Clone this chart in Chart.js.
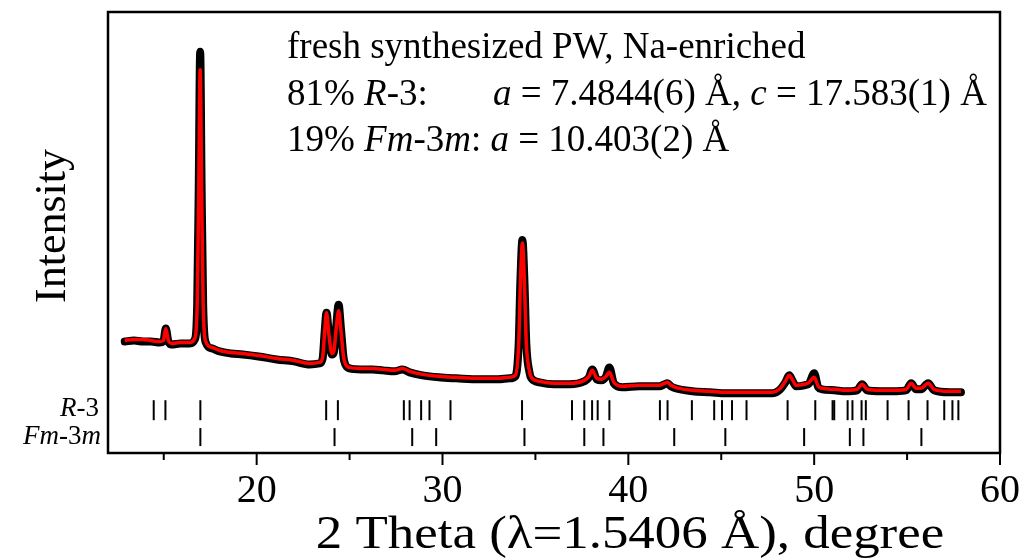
<!DOCTYPE html>
<html>
<head>
<meta charset="utf-8">
<script src="https://cdn.jsdelivr.net/npm/chart.js@4.4.0/dist/chart.umd.min.js"></script>
<style>
  html, body { margin: 0; padding: 0; background: #fff; }
  #wrap { width: 1028px; height: 560px; }
</style>
</head>
<body>
<div id="wrap"><canvas id="xrd"></canvas></div>
<script>
// Data (2 theta in degrees, intensity in arbitrary units)
const twoTheta = [
  12.90, 13.40, 13.87, 14.30, 14.78, 14.98, 15.11, 15.25, 15.43, 15.90,
  16.40, 16.67, 16.80, 16.88, 16.96, 17.04, 17.12, 17.26, 17.60, 18.01,
  18.60, 19.25, 20.10, 21.08, 22.00, 22.85, 23.39, 23.55, 23.66, 23.76,
  23.88, 24.05, 24.15, 24.28, 24.41, 24.54, 24.70, 25.00, 25.60, 26.24,
  26.80, 27.42, 27.85, 28.23, 28.92, 29.80, 30.75, 31.99, 33.00, 33.60,
  33.92, 34.10, 34.19, 34.30, 34.41, 34.51, 34.68, 34.78, 35.22, 36.00,
  36.83, 37.63, 37.88, 38.06, 38.30, 38.55, 38.80, 38.98, 39.22, 39.68,
  40.59, 41.67, 41.95, 42.10, 42.30, 42.53, 43.44, 44.40, 45.27, 46.50,
  47.74, 48.12, 48.45, 48.66, 48.85, 49.03, 49.46, 49.73, 50.00, 50.22,
  50.43, 51.10, 51.72, 52.31, 52.58, 52.85, 53.60, 54.41, 54.95, 55.22,
  55.48, 55.75, 56.13, 56.45, 57.26, 57.90
];
const intensityCalc = [
  113, 114, 114, 113, 112, 113, 125, 113, 110, 111,
  111, 115, 150, 260, 385, 260, 150, 112, 106, 103,
  101, 100, 98, 95, 93, 90, 91, 96, 122, 141,
  120, 100, 102, 125, 143, 122, 94, 86, 85, 85,
  84, 83, 85, 82, 79, 77, 76, 75, 75, 76,
  78, 110, 170, 211, 170, 110, 82, 76, 72, 70,
  70, 73, 77, 83, 75, 74, 77, 81, 71, 67,
  68, 68, 70, 71, 68, 66, 63, 62, 61, 61,
  61, 64, 72, 78, 73, 68, 69, 71, 76, 67,
  65, 64, 63, 64, 69, 64, 63, 63, 64, 70,
  65, 65, 70, 64, 62, 62
];
const intensityObs = [
  112, 113, 112, 112, 111, 112, 125, 112, 109, 110,
  110, 114, 150, 262, 403, 262, 150, 111, 105, 102,
  100, 99, 97, 94, 92, 89, 90, 95, 122, 141,
  120, 99, 101, 127, 149, 124, 93, 85, 84, 84,
  83, 82, 84, 81, 78, 76, 75, 74, 74, 75,
  77, 110, 172, 214, 172, 110, 81, 75, 71, 69,
  69, 72, 76, 84, 74, 73, 77, 86, 70, 66,
  67, 67, 69, 70, 67, 65, 62, 61, 60, 60,
  60, 63, 71, 78, 72, 67, 68, 70, 80, 66,
  64, 63, 62, 63, 69, 63, 62, 62, 63, 70,
  64, 64, 70, 63, 61, 61
];
// Bragg reflection positions of both phases
const r3Ticks = [
  14.46, 15.09, 16.97, 23.74, 24.37, 27.92, 28.23, 28.85, 29.30, 30.43,
  34.28, 36.97, 37.63, 38.05, 38.35, 38.98, 41.70, 42.11, 43.42, 44.62,
  45.04, 45.58, 46.36, 48.57, 50.06, 50.99, 51.08, 51.80, 52.06, 52.55,
  52.78, 53.95, 55.08, 56.10, 57.00, 57.44, 57.76
];
const fm3mTicks = [
  16.97, 24.19, 28.37, 29.66, 34.41, 37.63, 38.66, 42.47, 45.22, 49.46,
  51.92, 52.65, 55.77
];
const xTickLabels = [20, 30, 40, 50, 60];
const xMinorTicks = [15, 25, 35, 45, 55];

const serif = '"Liberation Serif", "Times New Roman", serif';

function drawRich(ctx, parts, x, y, size, align) {
  let total = 0;
  parts.forEach(([t, it]) => {
    ctx.font = (it ? 'italic ' : '') + size + 'px ' + serif;
    total += ctx.measureText(t).width;
  });
  let cx = align === 'right' ? x - total : x;
  parts.forEach(([t, it]) => {
    ctx.font = (it ? 'italic ' : '') + size + 'px ' + serif;
    ctx.fillText(t, cx, y);
    cx += ctx.measureText(t).width;
  });
}

const decorations = {
  id: 'decorations',
  afterDraw(chart) {
    const ctx = chart.ctx;
    const area = chart.chartArea;
    const xs = chart.scales.x;
    ctx.save();
    ctx.strokeStyle = '#000';
    ctx.fillStyle = '#000';

    // frame
    ctx.lineWidth = 2.5;
    ctx.strokeRect(area.left, area.top, area.right - area.left, area.bottom - area.top);

    // outward tick marks and labels on the bottom axis
    ctx.lineWidth = 2;
    const tick = (v, len) => {
      const px = xs.getPixelForValue(v);
      ctx.beginPath();
      ctx.moveTo(px, area.bottom);
      ctx.lineTo(px, area.bottom + len);
      ctx.stroke();
    };
    xMinorTicks.forEach(v => tick(v, 7));
    xTickLabels.forEach(v => tick(v, 12));

    ctx.textAlign = 'center';
    ctx.textBaseline = 'middle';
    ctx.font = '40px ' + serif;
    xTickLabels.forEach(v => ctx.fillText(String(v), xs.getPixelForValue(v), 491));

    // x title (reference text is wider than the font)
    ctx.save();
    ctx.translate(630, 536);
    ctx.scale(1.15, 1);
    ctx.font = '46px ' + serif;
    ctx.fillText('2 Theta (λ=1.5406 Å), degree', 0, 0);
    ctx.restore();

    // y title
    ctx.save();
    ctx.translate(53, 226);
    ctx.rotate(-Math.PI / 2);
    ctx.font = '44px ' + serif;
    ctx.fillText('Intensity', 0, 0);
    ctx.restore();

    // annotation
    ctx.textBaseline = 'alphabetic';
    ctx.textAlign = 'left';
    const fs = 37;
    drawRich(ctx, [['fresh synthesized PW, Na-enriched', false]], 287, 58, fs);
    drawRich(ctx, [['81% ', false], ['R', true], ['-3:', false]], 287, 105, fs);
    drawRich(ctx, [['a', true], [' = 7.4844(6) Å, ', false], ['c', true], [' = 17.583(1) Å', false]], 493, 105, fs);
    drawRich(ctx, [['19% ', false], ['Fm', true], ['-3', false], ['m', true], [': ', false], ['a', true], [' = 10.403(2) Å', false]], 287, 151, fs);

    // phase labels
    ctx.textBaseline = 'middle';
    drawRich(ctx, [['R', true], ['-3', false]], 99, 409, 27, 'right');
    drawRich(ctx, [['Fm', true], ['-3', false], ['m', true]], 101, 437, 27, 'right');
    ctx.restore();
  }
};

const ctx = document.getElementById('xrd').getContext('2d');
new Chart(ctx, {
  type: 'line',
  data: {
    datasets: [
      {
        label: 'calculated',
        data: twoTheta.map((x, i) => ({ x: x, y: intensityCalc[i] })),
        borderColor: '#ff0000',
        borderWidth: 3.5,
        borderJoinStyle: 'round',
        cubicInterpolationMode: 'monotone',
        pointRadius: 0,
        order: 0
      },
      {
        label: 'observed',
        data: twoTheta.map((x, i) => ({ x: x, y: intensityObs[i] })),
        borderColor: '#000000',
        borderWidth: 8,
        borderJoinStyle: 'round',
        borderCapStyle: 'round',
        cubicInterpolationMode: 'monotone',
        pointRadius: 0,
        order: 1
      },
      {
        label: 'R-3',
        data: r3Ticks.map(x => ({ x: x, y: 43 })),
        showLine: false,
        pointStyle: 'line',
        rotation: 90,
        pointRadius: 10,
        pointBorderWidth: 2,
        pointBorderColor: '#000',
        order: 2
      },
      {
        label: 'Fm-3m',
        data: fm3mTicks.map(x => ({ x: x, y: 16 })),
        showLine: false,
        pointStyle: 'line',
        rotation: 90,
        pointRadius: 9,
        pointBorderWidth: 2,
        pointBorderColor: '#000',
        order: 2
      }
    ]
  },
  options: {
    responsive: true,
    maintainAspectRatio: false,
    animation: false,
    devicePixelRatio: 1,
    layout: { padding: { left: 108, right: 28, top: 10, bottom: 107 } },
    plugins: {
      legend: { display: false },
      tooltip: { enabled: false }
    },
    scales: {
      x: { type: 'linear', display: false, min: 12, max: 60 },
      y: { display: false, min: 0, max: 443 }
    }
  },
  plugins: [decorations]
});
</script>
</body>
</html>
